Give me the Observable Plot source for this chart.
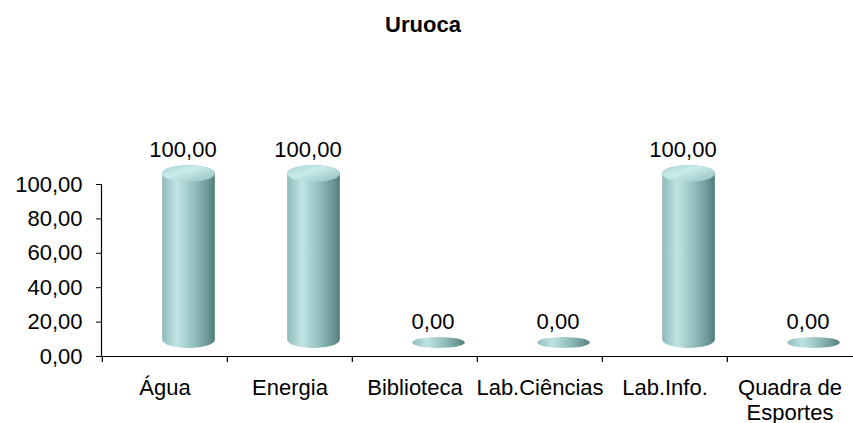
<!DOCTYPE html>
<html>
<head>
<meta charset="utf-8">
<script src="https://cdn.jsdelivr.net/npm/d3@7"></script>
<script src="https://cdn.jsdelivr.net/npm/@observablehq/plot@0.6"></script>
<style>
  html, body { margin: 0; padding: 0; background: #fff; }
  #title { width: 853px; height: 60px; box-sizing: border-box; padding-top: 14px; padding-right: 7px;
           font: bold 22px "Liberation Sans", Arial, sans-serif; line-height: 1; text-align: center; color: #000; }
</style>
</head>
<body>
<svg width="0" height="0" style="position:absolute">
  <defs>
    <linearGradient id="cyl" x1="0" x2="1" y1="0" y2="0">
      <stop offset="0" stop-color="#8fbaba"/>
      <stop offset="0.28" stop-color="#c0e4e4"/>
      <stop offset="0.6" stop-color="#93bfbf"/>
      <stop offset="0.88" stop-color="#6a9595"/>
      <stop offset="1" stop-color="#507b7b"/>
    </linearGradient>
    <linearGradient id="cap" x1="0" x2="1" y1="0" y2="1">
      <stop offset="0" stop-color="#a8d2d2"/>
      <stop offset="0.4" stop-color="#c8ecec"/>
      <stop offset="1" stop-color="#93bdbd"/>
    </linearGradient>
  </defs>
</svg>
<div id="title">Uruoca</div>
<div id="chart"></div>
<script>
const categories = ["Água", "Energia", "Biblioteca", "Lab.Ciências", "Lab.Info.", "Quadra de Esportes"];
const values = [100, 100, 0, 0, 100, 0];
const tickLabels = ["Água", "Energia", "Biblioteca", "Lab.Ciências", "Lab.Info.", "Quadra de\nEsportes"];
const yTicks = [0, 20, 40, 60, 80, 100];

const data = categories.map((c, i) => ({category: c, value: values[i]}));
const fmt = d => d.toFixed(2).replace(".", ",");
const labelOf = new Map(categories.map((c, i) => [c, tickLabels[i]]));

const W = 853, H = 363, ML = 101, MR = 0, MT = 124, MB = 67;
const bw = (W - ML - MR) / categories.length;
const cylW = 53;
const inset = (bw - cylW) / 2;
const font = "Liberation Sans, Arial, sans-serif";

const chart = Plot.plot({
  width: W,
  height: H,
  marginLeft: ML,
  marginRight: MR,
  marginTop: MT,
  marginBottom: MB,
  style: {fontFamily: font, fontSize: "22px", color: "#000", background: "#fff", overflow: "visible"},
  x: {domain: categories, padding: 0, axis: null},
  y: {domain: [0, 100], axis: null},
  marks: [
    Plot.barY(data, {
      x: "category", y1: 0, y2: "value",
      fill: "url(#cyl)",
      insetLeft: inset, insetRight: inset,
      insetTop: -9, insetBottom: -2,
      dx: 24, dy: -10,
      rx: cylW / 2, ry: 8.5
    }),
    Plot.barY(data.filter(d => d.value > 0), {
      x: "category", y1: "value", y2: "value",
      fill: "url(#cap)",
      insetLeft: inset, insetRight: inset,
      insetTop: -9, insetBottom: -8,
      dx: 24, dy: -10,
      rx: cylW / 2, ry: 8.5
    }),
    Plot.text(data, {
      x: "category", y: "value", text: d => fmt(d.value),
      dx: 18, dy: -28, lineAnchor: "bottom", fontSize: 22, fill: "#000"
    }),
    Plot.ruleY([0], {stroke: "#000", strokeWidth: 1.2}),
    Plot.frame({anchor: "left", stroke: "#000", strokeWidth: 1.2}),
    Plot.axisY({
      ticks: yTicks, tickFormat: fmt, tickSize: 5, tickPadding: 14,
      fontSize: 22, label: null, stroke: "#000"
    }),
    Plot.axisX({
      tickSize: 6, text: null, dx: -bw / 2, label: null, stroke: "#000", strokeWidth: 1.2
    }),
    Plot.axisX({
      tickSize: 0, tickPadding: 21, tickFormat: d => labelOf.get(d),
      fontSize: 22, lineHeight: 1.12, label: null
    })
  ]
});
document.getElementById("chart").appendChild(chart);
</script>
</body>
</html>
